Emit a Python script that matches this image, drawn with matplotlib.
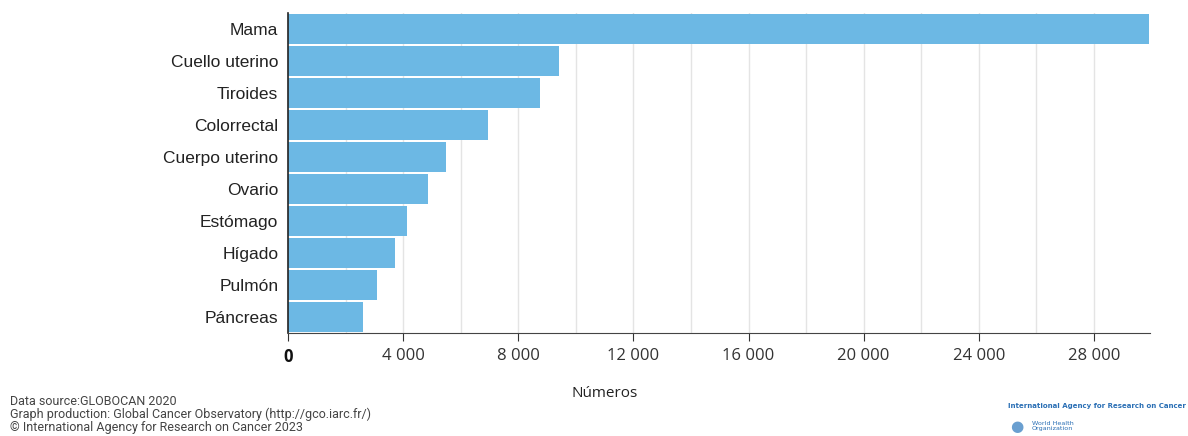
import matplotlib.pyplot as plt
import numpy as np

# GLOBOCAN 2020 - cancer cases in women
sites = ['Mama', 'Cuello uterino', 'Tiroides', 'Colorrectal', 'Cuerpo uterino',
         'Ovario', 'Estómago', 'Hígado', 'Pulmón', 'Páncreas']
cases = [29900, 9410, 8750, 6940, 5490, 4850, 4150, 3730, 3080, 2590]
x_ticks = [0, 4000, 8000, 12000, 16000, 20000, 24000, 28000]
x_tick_labels = ['0', '4 000', '8 000', '12 000', '16 000', '20 000', '24 000', '28 000']

BAR_COLOR = '#6cb8e4'

fig = plt.figure(figsize=(11.88, 4.36), dpi=100)
ax = fig.add_axes([288 / 1188, 1 - 333 / 436, (1150 - 288) / 1188, (333 - 13) / 436])

y = np.arange(len(sites))
ax.barh(y, cases, height=0.93, color=BAR_COLOR, zorder=2)
ax.set_ylim(len(sites) - 0.5, -0.5)
ax.set_xlim(0, 29950)

ax.set_yticks(y)
ax.set_yticklabels(sites, fontsize=12.5, family='Liberation Sans', color='#222222')
ax.tick_params(axis='y', length=0, pad=7)

ax.set_xticks(x_ticks)
ax.set_xticklabels(x_tick_labels, fontsize=12, family='Open Sans', color='#333333')
ax.set_xticks(np.arange(2000, 30000, 4000), minor=True)
ax.tick_params(axis='x', which='major', length=6, color='#333333', pad=5)
ax.tick_params(axis='x', which='minor', length=0)
ax.get_xticklabels()[0].set_fontweight('bold')
ax.get_xticklabels()[0].set_color('#111111')

ax.grid(axis='x', which='both', color='#e4e4e4', linewidth=1, zorder=0)
for s in ['top', 'right']:
    ax.spines[s].set_visible(False)
ax.spines['left'].set_color('#222222')
ax.spines['left'].set_linewidth(1.2)
ax.spines['bottom'].set_color('#444444')

fig.text(605 / 1188, 1 - 393 / 436, 'Números', ha='center', va='center',
         fontsize=11, family='Open Sans', color='#222222')

footer = ('Data source:GLOBOCAN 2020\n'
          'Graph production: Global Cancer Observatory (http://gco.iarc.fr/)\n'
          '\u00a9 International Agency for Research on Cancer 2023')
fig.text(10 / 1188, 1 - 434 / 436, footer, ha='left', va='bottom', fontsize=9,
         family='Roboto', color='#444444', linespacing=1.0)

fig.text(1186 / 1188, 1 - 406 / 436, 'International Agency for Research on Cancer',
         ha='right', va='center', fontsize=5.0, color='#2a6fb5', fontweight='bold')
fig.text(1032 / 1188, 1 - 426 / 436, 'World Health\nOrganization',
         ha='left', va='center', fontsize=4.6, color='#2a6fb5', linespacing=0.9)
fig.text(1017 / 1188, 1 - 426 / 436, '\u25cf', ha='center', va='center',
         fontsize=11, color='#6a9fd0')

fig.savefig('out.png', dpi=100)
